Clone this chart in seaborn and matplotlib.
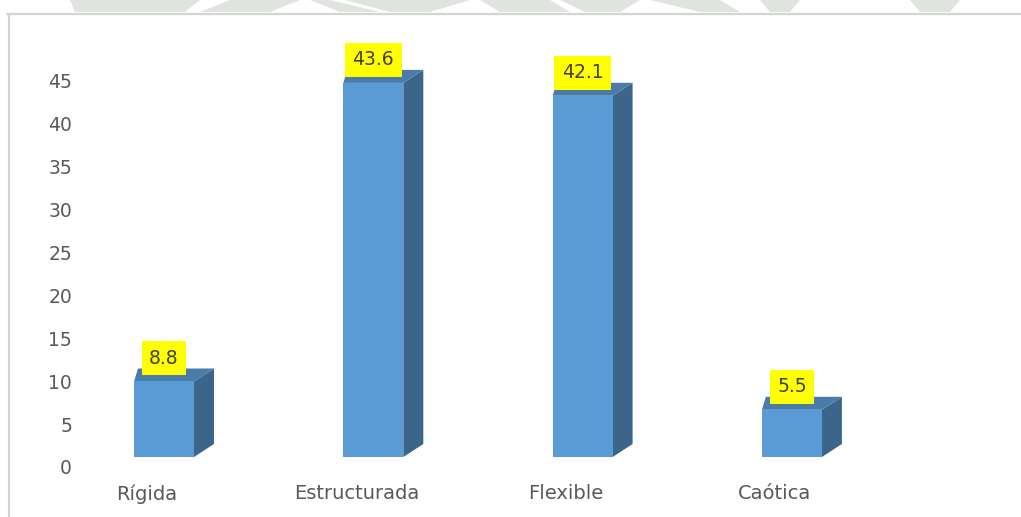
import matplotlib
matplotlib.use("Agg")
import matplotlib.pyplot as plt
import matplotlib.transforms as mtransforms
from matplotlib.patches import Polygon
from matplotlib.lines import Line2D
import seaborn as sns
import pandas as pd

# Data
categories = ["Rígida", "Estructurada", "Flexible", "Caótica"]
values = [8.8, 43.6, 42.1, 5.5]
y_ticks = [0, 5, 10, 15, 20, 25, 30, 35, 40, 45]

df = pd.DataFrame({"categoria": categories, "valor": values})

sns.set_theme(style="white")
plt.rcParams["font.family"] = ["DejaVu Sans"]

W, H, DPI = 1021, 517, 100
fig = plt.figure(figsize=(W / DPI, H / DPI), dpi=DPI, facecolor="white")

# Axes placed in pixel terms
left_px, right_px, top_px, bottom_px = 80, 1010, 20, 470
ax = fig.add_axes([left_px / W, 1 - bottom_px / H,
                   (right_px - left_px) / W, (bottom_px - top_px) / H])

# scale: pixels per category and per unit value
px_cat = 209.3
px_val = 8.58
x0_px, base_px = 164, 457

front = "#5B9BD5"
side = "#3B6689"
top = "#4A7BAA"

sns.barplot(data=df, x="categoria", y="valor", order=categories,
            color=front, saturation=1, width=60 / px_cat, ax=ax,
            edgecolor="none", zorder=3)

ax.set_xlim((left_px - x0_px) / px_cat, (right_px - x0_px) / px_cat)
ax.set_ylim((base_px - bottom_px) / px_val, (base_px - top_px) / px_val)

# Pseudo-3D depth on each bar
dxl, dxr, dy = 4 / px_cat, 20 / px_cat, 13 / px_val
for p in ax.patches[:len(values)]:
    x, w, h = p.get_x(), p.get_width(), p.get_height()
    side_poly = Polygon([(x + w, 0), (x + w + dxr, dy), (x + w + dxr, h + dy), (x + w, h)],
                        closed=True, facecolor=side, edgecolor="none", zorder=2)
    top_poly = Polygon([(x, h), (x + w, h), (x + w + dxr, h + dy), (x + dxl, h + dy)],
                       closed=True, facecolor=top, edgecolor="none", zorder=2)
    ax.add_patch(side_poly)
    ax.add_patch(top_poly)

# Value labels with yellow boxes
for p, v in zip(ax.patches[:len(values)], values):
    cx = p.get_x() + p.get_width() / 2
    ax.annotate(f"{v:.1f}", xy=(cx, v), xytext=(0, 23 * 0.72),
                textcoords="offset points", ha="center", va="center",
                fontsize=13.5, color="#404040", zorder=5,
                bbox=dict(boxstyle="square,pad=0.4", facecolor="#FFFF00", edgecolor="none"))

# Axes styling
for s in ax.spines.values():
    s.set_visible(False)
ax.grid(False)
ax.set_xlabel("")
ax.set_ylabel("")
ax.set_yticks(y_ticks)
ax.set_yticklabels([str(t) for t in y_ticks])
ax.tick_params(axis="y", length=0, pad=8 * 0.72, labelsize=13.5, labelcolor="#595959")
ax.tick_params(axis="x", length=0, pad=14 * 0.72, labelsize=14, labelcolor="#595959")

down = mtransforms.ScaledTranslation(0, -10 / DPI, fig.dpi_scale_trans)
for lab in ax.get_yticklabels():
    lab.set_transform(lab.get_transform() + down)
shift = mtransforms.ScaledTranslation(-17 / DPI, 0, fig.dpi_scale_trans)
for lab in ax.get_xticklabels():
    lab.set_transform(lab.get_transform() + shift)

# Faint watermark strip above the frame
wm = "#DFE4DE"
shapes = [
    [(70, 0), (200, 0), (185, 12), (75, 12)],
    [(230, 0), (300, 0), (270, 12), (200, 12)],
    [(310, 0), (330, 0), (380, 12), (340, 12)],
    [(345, 0), (470, 0), (430, 12), (390, 12)],
    [(480, 0), (550, 0), (570, 12), (500, 12)],
    [(560, 0), (640, 0), (620, 12), (585, 12)],
    [(650, 0), (720, 0), (740, 12), (700, 12)],
    [(760, 0), (800, 0), (790, 12), (770, 12)],
    [(910, 0), (960, 0), (950, 12), (920, 12)],
]
for pts in shapes:
    fig.add_artist(Polygon([(px / W, 1 - py / H) for px, py in pts], closed=True,
                           facecolor=wm, edgecolor="none", transform=fig.transFigure))

# Outer frame lines
fig.add_artist(Line2D([7 / W, 1], [1 - 13.5 / H, 1 - 13.5 / H], color="#D4D4D4",
                      lw=2.2 * 0.72, transform=fig.transFigure))
fig.add_artist(Line2D([8.5 / W, 8.5 / W], [0, 1 - 13.5 / H], color="#D4D4D4",
                      lw=2.2 * 0.72, transform=fig.transFigure))

fig.savefig("out.png", dpi=DPI, facecolor="white")
